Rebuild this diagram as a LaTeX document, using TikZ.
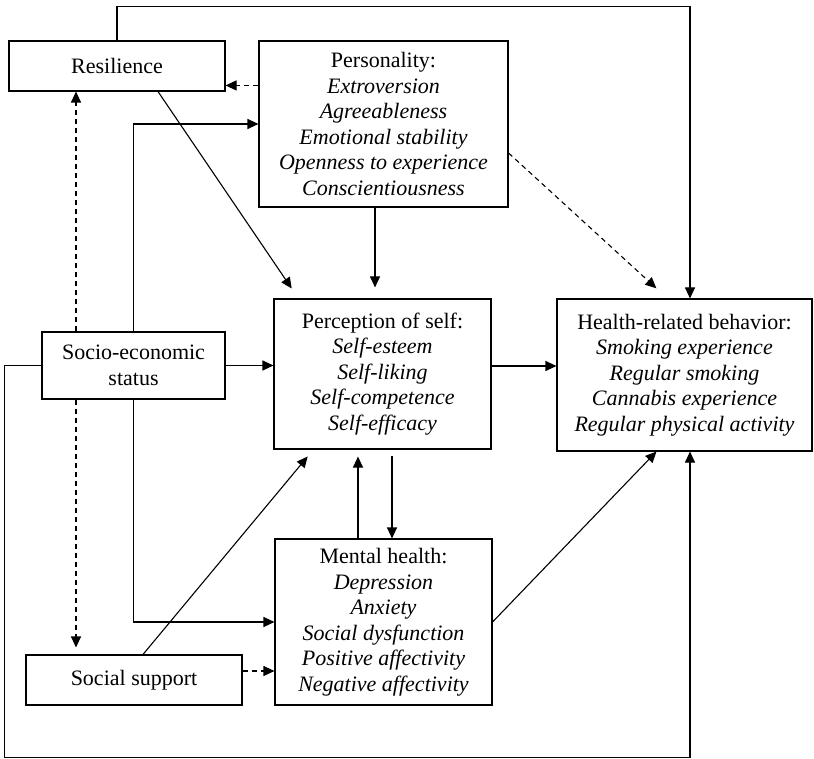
\documentclass[tikz,border=0pt]{standalone}
\usepackage{fontspec}
\setmainfont{Liberation Serif}
\usetikzlibrary{arrows.meta,calc}
\begin{document}
\begin{tikzpicture}[x=1pt,y=-1pt,
  box/.style={draw,line width=1.1pt,inner sep=0pt,align=center,
    font=\fontsize{22}{25.5}\selectfont},
  arr/.style={line width=1.1pt,-{Triangle[length=11pt,width=10pt]}},
  darr/.style={arr,dash pattern=on 5pt off 4pt}]
\useasboundingbox (0,0) rectangle (814,759);
\node[box,minimum width=216pt,minimum height=50pt] (res) at (117,66) {Resilience};
\node[box,minimum width=249pt,minimum height=166pt] (pers) at (383.5,124)
  {Personality:\\\textit{Extroversion}\\\textit{Agreeableness}\\\textit{Emotional stability}\\\textit{Openness to experience}\\\textit{Conscientiousness}};
\node[box,minimum width=217pt,minimum height=150pt] (perc) at (382.5,374)
  {Perception of self:\\\textit{Self-esteem}\\\textit{Self-liking}\\\textit{Self-competence}\\\textit{Self-efficacy}};
\node[box,minimum width=255pt,minimum height=152pt] (hb) at (684.5,375)
  {Health-related behavior:\\\textit{Smoking experience}\\\textit{Regular smoking}\\\textit{Cannabis experience}\\\textit{Regular physical activity}};
\node[box,minimum width=183pt,minimum height=67pt] (ses) at (133.5,365.5)
  {Socio-economic\\status};
\node[box,minimum width=216pt,minimum height=50pt] (ss) at (134,680) {Social support};
\node[box,minimum width=217pt,minimum height=166pt] (mh) at (383.5,622)
  {Mental health:\\\textit{Depression}\\\textit{Anxiety}\\\textit{Social dysfunction}\\\textit{Positive affectivity}\\\textit{Negative affectivity}};
% coordinates
\coordinate (hbT) at ($(hb.north)+(5.5,0)$);
\coordinate (hbB) at ($(hb.south)+(5.5,0)$);
% top loop
\draw[arr] (res.north) -- ++(0,-34) -| (hbT);
% personality -> resilience (dashed)
\coordinate (p1) at ($(pers.north west)+(0,45)$);
\draw[darr] (p1) -- (p1 -| res.east);
% ses -> personality
\draw[arr] (ses.north) |- (pers.west);
% ses <-> resilience / social support dashed
\coordinate (s1) at ($(ses.north)+(-57.5,0)$);
\draw[darr] (s1) -- (s1 |- res.south);
\coordinate (s2) at ($(ses.south)+(-57.5,0)$);
\draw[darr,shorten >=7pt] (s2) -- (s2 |- ss.north);
% ses -> mental health
\draw[arr] (ses.south) |- (mh.west);
% ses -> perception
\draw[arr] (ses.east) -- (ses.east -| perc.west);
% ses -> health (bottom loop)
\draw[arr] (ses.west) -- ++(-37,0) |- ($(hbB)+(0,306)$) -- (hbB);
% resilience -> perception
\draw[arr,shorten >=12pt] ($(res.south)+(41,0)$) -- ($(perc.north west)+(25,0)$);
% personality -> perception
\coordinate (p2) at ($(pers.south)+(-8.5,0)$);
\draw[arr,shorten >=11pt] (p2) -- (p2 |- perc.north);
% personality -> health (dashed)
\draw[darr,shorten >=15pt] ($(pers.east)+(0,29)$) -- ($(hb.north west)+(111,0)$);
% perception -> health
\coordinate (p3) at ($(perc.east)+(0,-8)$);
\draw[arr] (p3) -- (p3 -| hb.west);
% social support -> perception
\draw[arr,shorten >=9pt] ($(ss.north)+(9,0)$) -- ($(perc.south west)+(40,0)$);
% mental <-> perception
\coordinate (m1) at ($(mh.north)+(-25.5,0)$);
\draw[arr,shorten >=7pt] (m1) -- (m1 |- perc.south);
\coordinate (m2) at ($(perc.south)+(9.5,0)$);
\draw[arr,shorten <=6pt] (m2) -- (m2 |- mh.north);
% social support -> mental (dashed)
\coordinate (s3) at ($(ss.east)+(0,-9)$);
\draw[darr] (s3) -- (s3 -| mh.west);
% mental -> health
\draw[arr] (mh.east) -- ($(hb.south west)+(100,0)$);
\end{tikzpicture}
\end{document}
